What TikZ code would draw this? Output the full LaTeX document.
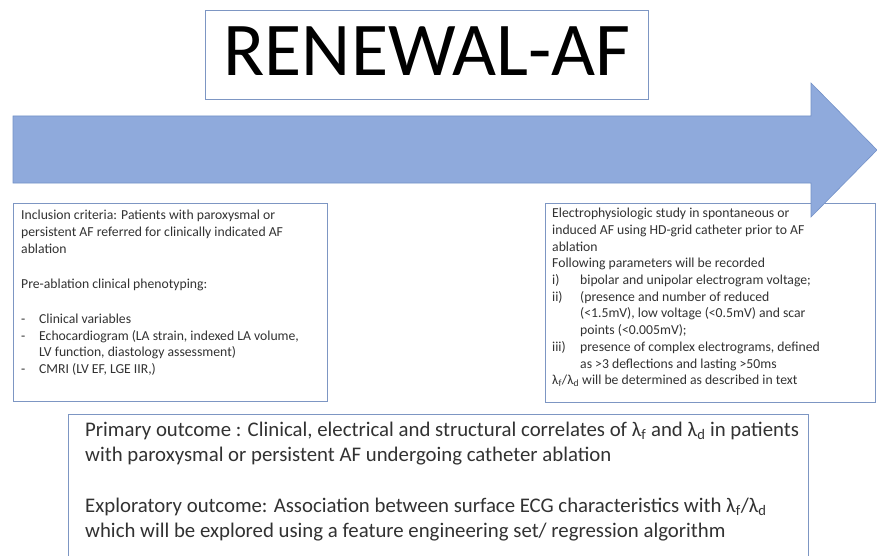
\documentclass[tikz,border=0pt]{standalone}
\usepackage{fontspec}
\setmainfont{Carlito}
\usetikzlibrary{positioning}
\definecolor{arrowblue}{RGB}{143,170,220}
\definecolor{arrowedge}{RGB}{115,145,200}
\definecolor{boxline}{RGB}{125,150,195}
\definecolor{bodytext}{RGB}{50,50,50}
\newcommand{\dashitem}[1]{\makebox[18pt][l]{-}#1}
\newcommand{\romanitem}[2]{\makebox[28pt][l]{#1}#2}

\begin{document}
\begin{tikzpicture}[x=1pt, y=-1pt,
		infobox/.style={draw=boxline, line width=0.9pt, fill=white, inner sep=0pt, anchor=north west},
		smalltext/.style={font=\fontsize{13.7}{16.7}\selectfont, text=bodytext, align=left, inner sep=0pt, anchor=north west},
		bigtext/.style={font=\fontsize{20.8}{25.2}\selectfont, text=bodytext, align=left, inner sep=0pt, anchor=north west}]
		%%%%% START %%%%%
		
		\useasboundingbox (0,0) rectangle (877,556);
		\fill[white] (0,0) rectangle (877,556);
		
		% title
		\node[infobox, minimum width=443pt, minimum height=89pt] (title) at (205,10) {};
		\node[font=\fontsize{76}{76}\selectfont, inner sep=0pt] (titletext) at ([yshift=4pt]title.center) {RENEWAL-AF};
		
		% boxes below the arrow
		\node[infobox, minimum width=314pt, minimum height=198pt] (inclusion) at (13,203) {};
		\node[infobox, minimum width=330pt, minimum height=199pt] (epstudy) at (545,203) {};
		\node[infobox, minimum width=740pt, minimum height=150pt] (outcome) at (68,414) {};
		
		% timeline arrow
		\draw[fill=arrowblue, draw=arrowedge, line width=0.6pt] (13,116) -- (811,116) -- (811,83) -- (877,150) -- (811,217) -- (811,183) -- (13,183) -- cycle;
		
		\node[smalltext] (inclusiontext) at ([xshift=8pt, yshift=-7pt]inclusion.north west) {%
			Inclusion criteria: Patients with paroxysmal or\\
			persistent AF referred for clinically indicated AF\\
			ablation\\[18.5pt]
			Pre-ablation clinical phenotyping:\\[18.5pt]
			\dashitem{Clinical variables}\\
			\dashitem{Echocardiogram (LA strain, indexed LA volume,}\\
			\hspace*{18pt}LV function, diastology assessment)\\
			\dashitem{CMRI (LV EF, LGE IIR,)}};
		
		\node[smalltext] (epstudytext) at ([xshift=7pt, yshift=-5pt]epstudy.north west) {%
			Electrophysiologic study in spontaneous or\\
			induced AF using HD-grid catheter prior to AF\\
			ablation\\
			Following parameters will be recorded\\
			\romanitem{i)}{bipolar and unipolar electrogram voltage;}\\
			\romanitem{ii)}{(presence and number of reduced}\\
			\hspace*{28pt}(<1.5mV), low voltage (<0.5mV) and scar\\
			\hspace*{28pt}points (<0.005mV);\\
			\romanitem{iii)}{presence of complex electrograms, defined}\\
			\hspace*{28pt}as >3 deflections and lasting >50ms\\
			λ\textsubscript{f}/λ\textsubscript{d} will be determined as described in text};
		
		\node[bigtext] (outcometext) at ([xshift=17pt, yshift=-8pt]outcome.north west) {%
			Primary outcome : Clinical, electrical and structural correlates of λ\textsubscript{f} and λ\textsubscript{d} in patients\\
			with paroxysmal or persistent AF undergoing catheter ablation\\[25.2pt]
			Exploratory outcome: Association between surface ECG characteristics with λ\textsubscript{f}/λ\textsubscript{d}\\
			which will be explored using a feature engineering set/ regression algorithm};
		
		%%%%% END %%%%%
	\end{tikzpicture}
\end{document}
